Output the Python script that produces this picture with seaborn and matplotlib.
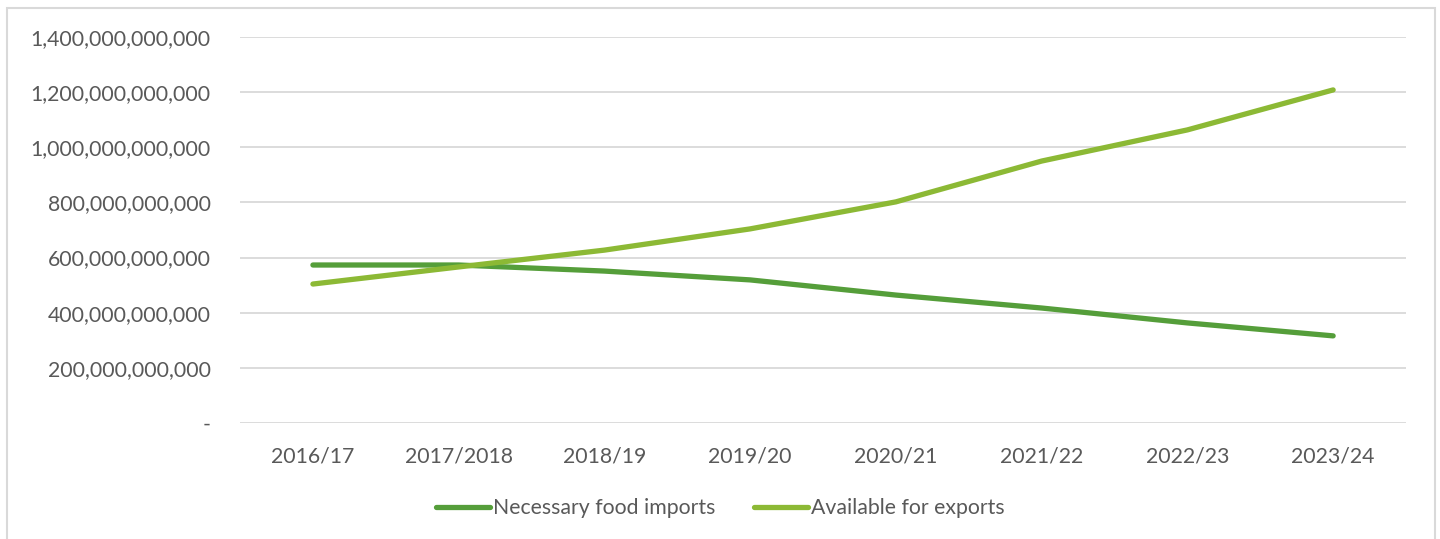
import pandas as pd
import matplotlib.pyplot as plt
import seaborn as sns
from matplotlib.patches import Rectangle
from matplotlib.ticker import FuncFormatter

years = ['2016/17', '2017/2018', '2018/19', '2019/20', '2020/21', '2021/22', '2022/23', '2023/24']
imports = [573e9, 573e9, 551e9, 519e9, 464e9, 417e9, 363e9, 316e9]
exports = [504e9, 566e9, 627e9, 704e9, 802e9, 950e9, 1063e9, 1208e9]
series_names = ['Necessary food imports', 'Available for exports']
colors = ['#559E3A', '#8CB935']

df = pd.concat([
    pd.DataFrame({'year': years, 'value': imports, 'series': series_names[0]}),
    pd.DataFrame({'year': years, 'value': exports, 'series': series_names[1]}),
])

sns.set_style('white')
plt.rcParams['font.family'] = ['Lato', 'DejaVu Sans']

fig = plt.figure(figsize=(14.4, 5.39), dpi=100)
ax = fig.add_axes([0.1667, 0.2152, 0.8097, 0.7162])

sns.lineplot(data=df, x='year', y='value', hue='series', palette=colors,
             linewidth=3.8, ax=ax, sort=False, solid_capstyle='round')

ax.set_xlim(-0.5, len(years) - 0.5)
ax.set_ylim(0, 1.4e12)
ax.set_yticks([i * 2e11 for i in range(8)])
ax.yaxis.set_major_formatter(FuncFormatter(lambda v, p: '-' if v == 0 else f'{v:,.0f}'))
ax.grid(axis='y', color='#D9D9D9', linewidth=1.3)
ax.set_axisbelow(True)
for s in ax.spines.values():
    s.set_visible(False)
ax.tick_params(axis='both', length=0, labelsize=15.3, colors='#595959')
ax.tick_params(axis='y', pad=21)
ax.tick_params(axis='x', pad=17)
ax.set_xlabel('')
ax.set_ylabel('')

ax.get_legend().remove()
handles, labels = ax.get_legend_handles_labels()
leg = fig.legend(handles, labels, loc='center', bbox_to_anchor=(0.5, 1 - 508 / 539), ncol=2,
                 frameon=False, fontsize=15.3, handlelength=2.55, handletextpad=0.15,
                 columnspacing=1.8)
for t in leg.get_texts():
    t.set_color('#595959')
for h in leg.get_lines():
    h.set_linewidth(3.8)
    h.set_solid_capstyle('round')

fig.patches.append(Rectangle((7 / 1440, -0.05), 1428 / 1440, 1 - 8 / 539 + 0.05,
                             transform=fig.transFigure, fill=False,
                             edgecolor='#D9D9D9', linewidth=1.5))

fig.savefig('out.png', dpi=100)
